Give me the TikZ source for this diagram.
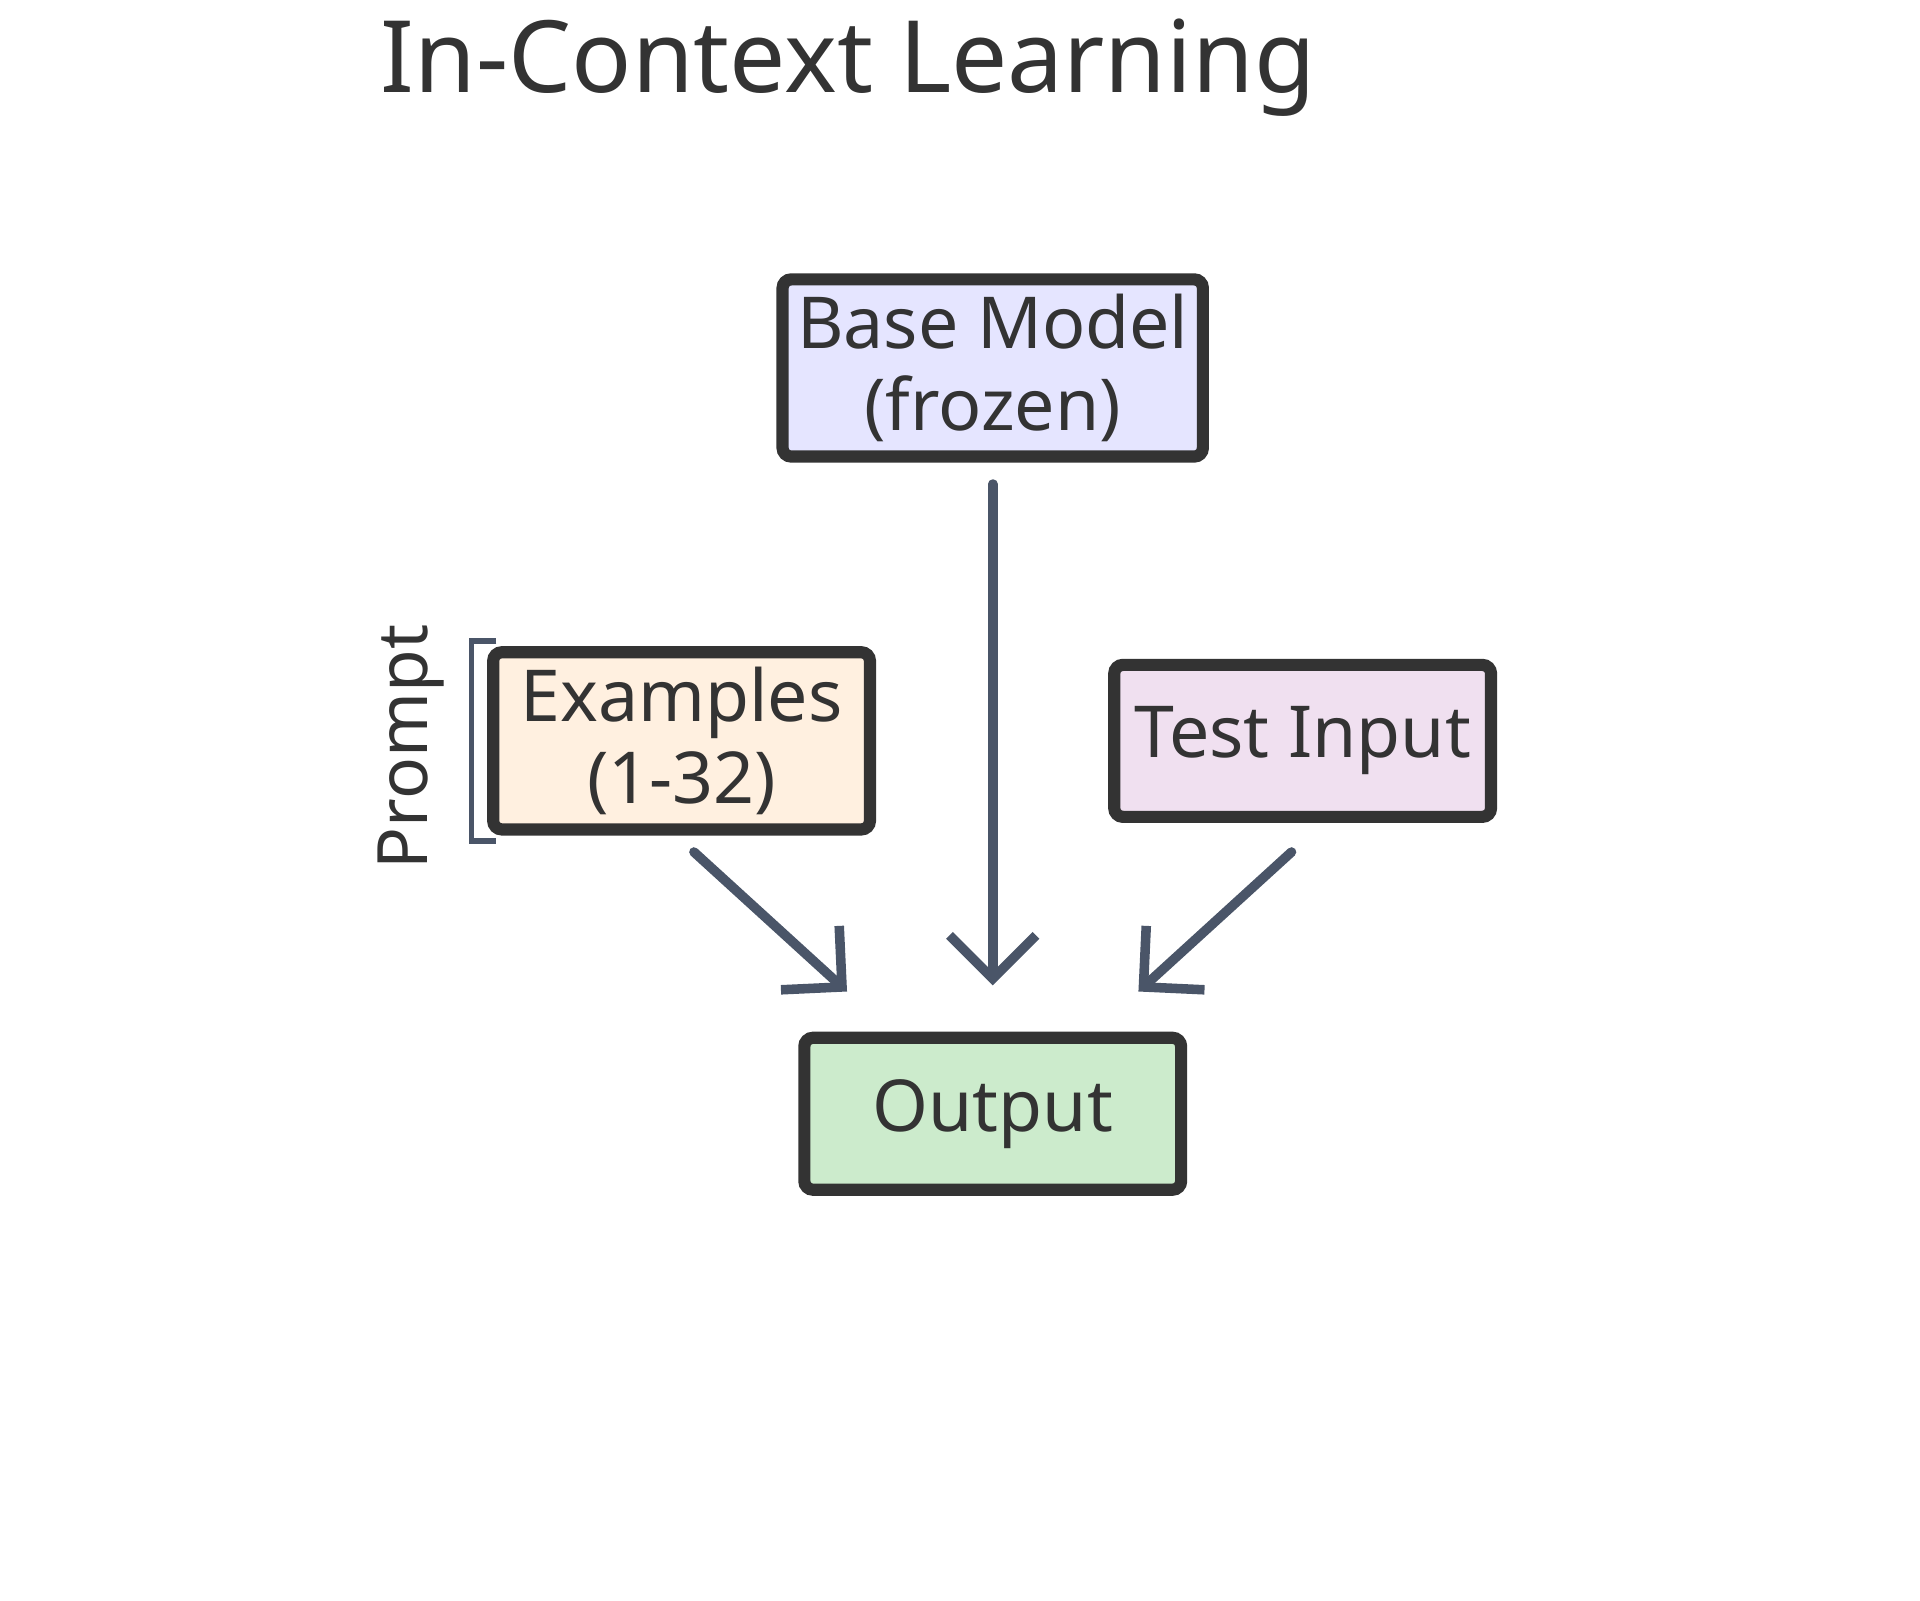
\documentclass[tikz,border=0pt]{standalone}
\usepackage{fontspec}
\setmainfont{Noto Sans}
\usetikzlibrary{arrows.meta}
\definecolor{ink}{HTML}{333333}
\definecolor{slate}{HTML}{4A5568}
\tikzset{
  box/.style={draw=ink,line width=2.8pt,rounded corners=2pt,minimum width=3.05cm,minimum height=1.23cm,align=center,font=\fontsize{16.5}{19}\selectfont,text=ink},
  flow/.style={draw=slate,line width=2.2pt,line cap=round,-{Straight Barb[length=3.5mm,width=7mm,line width=2.2pt]}}
}
\begin{document}
\begin{tikzpicture}[x=0.01cm,y=-0.01cm]
  \useasboundingbox (0,0) rectangle (1555,1296);
  \node[anchor=west,font=\fontsize{23}{27}\selectfont,text=ink] (title) at (296,55) {In-Context Learning};
  \node[box,fill=blue!10] (model) at (804,298) {Base Model\\(frozen)};
  \node[box,fill=orange!12] (examples) at (552,600) {Examples\\(1-32)};
  \node[box,fill=violet!12] (test) at (1055,600) {Test Input};
  \node[box,fill=green!60!black!20] (output) at (804,902) {Output};
  \coordinate (m1) at (804,392);
  \coordinate (m2) at (804,798);
  \coordinate (e1) at (562,690);
  \coordinate (e2) at (686,803);
  \coordinate (t1) at (1046,690);
  \coordinate (t2) at (922,803);
  \draw[flow] (m1) -- (m2);
  \draw[flow] (e1) -- (e2);
  \draw[flow] (t1) -- (t2);
  % prompt bracket
  \draw[slate,line width=1.3pt] (402,519) -- (382,519) -- (382,681) -- (402,681);
  \node[rotate=90,font=\fontsize{16}{19}\selectfont,text=ink] (prompt) at (333,605) {Prompt};
\end{tikzpicture}
\end{document}
